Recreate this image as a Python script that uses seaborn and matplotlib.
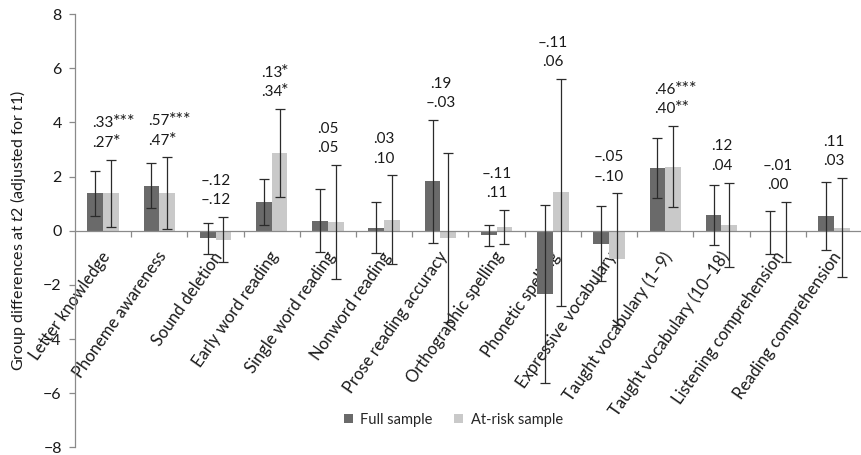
import matplotlib
matplotlib.use("Agg")
import matplotlib.pyplot as plt
import matplotlib.transforms as mtransforms
import numpy as np
import pandas as pd
import seaborn as sns

# %% Data
categories = [
    "Letter knowledge", "Phoneme awareness", "Sound deletion", "Early word reading",
    "Single word reading", "Nonword reading", "Prose reading accuracy",
    "Orthographic spelling", "Phonetic spelling", "Expressive vocabulary",
    "Taught vocabulary (1–9)", "Taught vocabulary (10–18)",
    "Listening comprehension", "Reading comprehension",
]
full_vals = [1.38, 1.67, -0.28, 1.07, 0.37, 0.12, 1.83, -0.17, -2.33, -0.47, 2.32, 0.59, -0.06, 0.54]
full_err = [0.82, 0.82, 0.56, 0.85, 1.17, 0.95, 2.27, 0.39, 3.29, 1.39, 1.12, 1.10, 0.78, 1.25]
risk_vals = [1.38, 1.38, -0.33, 2.86, 0.33, 0.41, -0.25, 0.15, 1.42, -1.05, 2.37, 0.22, -0.04, 0.12]
risk_err = [1.25, 1.33, 0.84, 1.63, 2.11, 1.64, 3.11, 0.62, 4.18, 2.43, 1.50, 1.56, 1.10, 1.83]

full_es = [".33", ".57", "–.12", ".13", ".05", ".03", ".19", "–.11", "–.11", "–.05", ".46", ".12", "–.01", ".11"]
full_sig = ["***", "***", "", "*", "", "", "", "", "", "", "***", "", "", ""]
risk_es = [".27", ".47", "–.12", ".34", ".05", ".10", "–.03", ".11", ".06", "–.10", ".40", ".04", ".00", ".03"]
risk_sig = ["*", "*", "", "*", "", "", "", "", "", "", "**", "", "", ""]

SAMPLES = ["Full sample", "At-risk sample"]
COLORS = ["#6a6a6a", "#c9c9c9"]
AXIS_GREY = "#8a8a8a"
TEXT = "#1a1a1a"

# %% Long-form table for seaborn
df = pd.DataFrame({
    "measure": categories * 2,
    "sample": [SAMPLES[0]] * len(categories) + [SAMPLES[1]] * len(categories),
    "value": full_vals + risk_vals,
    "err": full_err + risk_err,
})

# %% Style
sns.set_theme(style="ticks")
plt.rcParams["font.family"] = ["Lato", "DejaVu Sans"]
plt.rcParams["mathtext.fontset"] = "custom"
plt.rcParams["mathtext.rm"] = "Lato"
plt.rcParams["mathtext.it"] = "Lato:italic"

fig = plt.figure(figsize=(8.62, 4.55), dpi=100)
ax = fig.add_axes([0.087, 0.0165, 0.913, 0.9525])

sns.barplot(
    data=df, x="measure", y="value", hue="sample", order=categories,
    hue_order=SAMPLES, palette=COLORS, width=0.56, gap=0, errorbar=None,
    linewidth=0, saturation=1, ax=ax,
)

# %% Error bars from the bar positions
tops = []
for container, sample in zip(ax.containers, SAMPLES):
    sub = df[df["sample"] == sample].set_index("measure").loc[categories]
    xs = [b.get_x() + b.get_width() / 2 for b in container]
    ax.errorbar(xs, sub["value"], yerr=sub["err"], fmt="none", ecolor="#2b2b2b",
                elinewidth=0.9, capsize=3.5, capthick=0.9, zorder=3)
    tops.append((sub["value"] + sub["err"]).to_numpy())
label_base = np.maximum(tops[0], tops[1])

# %% Effect-size labels (two lines, stars appended to the right)
for i in range(len(categories)):
    for es, sig, off in [(risk_es[i], risk_sig[i], 7), (full_es[i], full_sig[i], 21)]:
        t = ax.annotate(es, xy=(i, label_base[i]), xytext=(0, off), textcoords="offset points",
                        ha="center", va="bottom", fontsize=11, color=TEXT)
        if sig:
            ax.annotate(sig, xy=(1, 0), xycoords=t, xytext=(-0.8, 0), textcoords="offset points",
                        ha="left", va="bottom", fontsize=13, color=TEXT)

# %% Axes
ax.set_ylim(-8, 8)
ax.set_xlim(-0.5, 13.28)
ax.set_yticks(range(-8, 9, 2))
ax.spines["top"].set_visible(False)
ax.spines["right"].set_visible(False)
ax.spines["bottom"].set_position(("data", 0))
for s in ["left", "bottom"]:
    ax.spines[s].set_color(AXIS_GREY)
    ax.spines[s].set_linewidth(0.9)

ax.tick_params(axis="y", direction="out", length=4.5, width=0.9, color=AXIS_GREY,
               labelsize=11.5, pad=5, labelcolor=TEXT)
ax.set_xticks(np.arange(len(categories)) + 0.5, minor=True)
ax.tick_params(axis="x", which="major", length=0, pad=13, labelsize=12, labelcolor=TEXT)
ax.tick_params(axis="x", which="minor", direction="out", length=4, width=0.9, color=AXIS_GREY)
shift = mtransforms.ScaledTranslation(-2 / 72, 0, fig.dpi_scale_trans)
for lab in ax.get_xticklabels():
    lab.set_rotation(55)
    lab.set_ha("right")
    lab.set_va("top")
    lab.set_rotation_mode("anchor")
    lab.set_transform(lab.get_transform() + shift)

ax.set_xlabel("")
ax.set_ylabel("Group differences at $\\mathit{t2}$ (adjusted for $\\mathit{t1}$)", fontsize=11.5,
              color=TEXT)
ax.yaxis.set_label_coords(-0.06, 0.5)

sns.move_legend(
    ax, "center", bbox_to_anchor=(0.526, 0.077), bbox_transform=fig.transFigure,
    ncol=2, frameon=False, title=None, fontsize=10.5, handlelength=0.6,
    handleheight=0.6, handletextpad=0.5, columnspacing=1.5,
)

fig.savefig("out.png", dpi=100)
